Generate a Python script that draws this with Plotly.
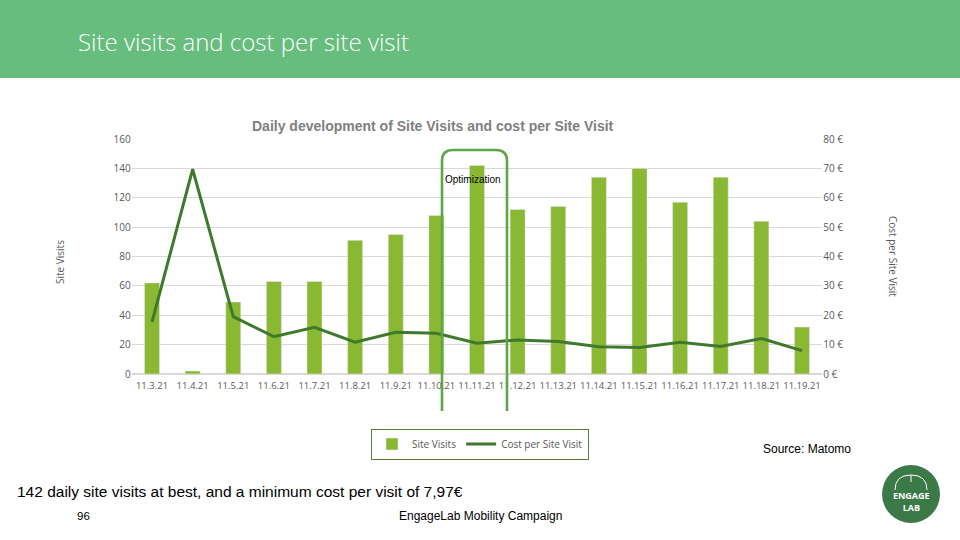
import plotly.graph_objects as go

dates = ["11.3.21", "11.4.21", "11.5.21", "11.6.21", "11.7.21", "11.8.21", "11.9.21",
         "11.10.21", "11.11.21", "11.12.21", "11.13.21", "11.14.21", "11.15.21",
         "11.16.21", "11.17.21", "11.18.21", "11.19.21"]
site_visits = [62, 2, 49, 63, 63, 91, 95, 108, 142, 112, 114, 134, 140, 117, 134, 104, 32]
cost_per_visit = [17.7, 69.7, 19.5, 12.7, 15.9, 10.8, 14.2, 13.9, 10.5, 11.6, 11.1,
                  9.3, 9.0, 10.8, 9.4, 12.1, 7.97]

W, H = 960, 540
def px(x):
    return x / W
def py(y):
    return 1 - y / H

BAR = "#8ab833"
LINE = "#3f7a2c"
GRAY = "#595959"

fig = go.Figure()
fig.add_trace(go.Bar(x=dates, y=site_visits, name="Site Visits", marker_color=BAR,
                     yaxis="y"))
fig.add_trace(go.Scatter(x=dates, y=cost_per_visit, name="Cost per Site Visit",
                         mode="lines", line=dict(color=LINE, width=3), yaxis="y2"))

# Optimization rounded box
x0, x1, y0, y1, r = 442, 507, 150, 411, 11
path = (f"M {px(x0)},{py(y1)} L {px(x0)},{py(y0 + r)} "
        f"Q {px(x0)},{py(y0)} {px(x0 + r)},{py(y0)} "
        f"L {px(x1 - r)},{py(y0)} Q {px(x1)},{py(y0)} {px(x1)},{py(y0 + r)} "
        f"L {px(x1)},{py(y1)}")

shapes = [
    dict(type="rect", xref="paper", yref="paper", x0=0, x1=1, y0=py(78), y1=1,
         fillcolor="#66bd7d", line=dict(width=0), layer="below"),
    dict(type="path", xref="paper", yref="paper", path=path,
         line=dict(color="#5ea646", width=2.6)),
    dict(type="circle", xref="paper", yref="paper", x0=px(882), x1=px(940),
         y0=py(523), y1=py(465), fillcolor="#3b7a47", line=dict(width=0)),
    dict(type="path", xref="paper", yref="paper",
         path=(f"M {px(895)},{py(490)} Q {px(895)},{py(475)} {px(911)},{py(475)} "
               f"Q {px(927)},{py(475)} {px(927)},{py(490)}"),
         line=dict(color="white", width=1)),
    dict(type="line", xref="paper", yref="paper", x0=px(911), x1=px(911),
         y0=py(475), y1=py(482), line=dict(color="white", width=1)),
]

def ann(text, x, y, size, color="black", family="Liberation Sans", xanchor="center",
        angle=0, weight=None):
    f = dict(family=family, size=size, color=color)
    if weight:
        f["weight"] = weight
    return dict(text=text, x=px(x), y=py(y), xref="paper", yref="paper",
                xanchor=xanchor, yanchor="middle", showarrow=False, textangle=angle,
                font=f)

annotations = [
    ann("Site visits and cost per site visit", 76, 41, 24, "white", "Open Sans",
        "left", weight=300),
    ann("<b>Daily development of Site Visits and cost per Site Visit</b>", 433, 126,
        14, "#7f7f7f"),
    ann("Site Visits", 60, 262, 10, GRAY, "Open Sans", angle=-90),
    ann("Cost per Site Visit", 893, 256, 10, GRAY, "Open Sans", angle=90),
    ann("Optimization", 473, 180, 10),
    ann("Source: Matomo", 807, 449, 12),
    ann("142 daily site visits at best, and a minimum cost per visit of 7,97€", 15, 491,
        15.5, xanchor="left"),
    ann("96", 83, 516, 11.5),
    ann("EngageLab Mobility Campaign", 480, 516, 12),
    ann("<b>ENGAGE<br>LAB</b>", 911, 501, 9, "white", "Open Sans"),
]

fig.update_layout(
    width=W, height=H,
    margin=dict(l=0, r=0, t=0, b=0),
    paper_bgcolor="white", plot_bgcolor="white",
    showlegend=True,
    bargap=0.63,
    xaxis=dict(domain=[px(131.7), px(822.3)], showgrid=False, showline=False,
               ticks="", ticklabelstandoff=4,
               tickfont=dict(family="Open Sans", size=9.5, color=GRAY),
               automargin=False, type="category"),
    yaxis=dict(domain=[py(374), py(139)], range=[0, 160], dtick=20,
               gridcolor="#d9d9d9", gridwidth=1, zeroline=True, zerolinecolor="#d9d9d9",
               showline=False, ticks="", automargin=False,
               tickfont=dict(family="Open Sans", size=10, color=GRAY)),
    yaxis2=dict(overlaying="y", side="right", range=[0, 80], dtick=10,
                ticksuffix=" €", showgrid=False, zeroline=False, showline=False,
                automargin=False,
                tickfont=dict(family="Open Sans", size=10, color=GRAY)),
    legend=dict(orientation="h", x=px(480), y=py(444), xanchor="center",
                yanchor="middle", bordercolor="#548235", borderwidth=1,
                font=dict(family="Open Sans", size=10, color=GRAY),
                itemwidth=30, tracegroupgap=0),
    shapes=shapes,
    annotations=annotations,
)

fig.write_html("out.html")
